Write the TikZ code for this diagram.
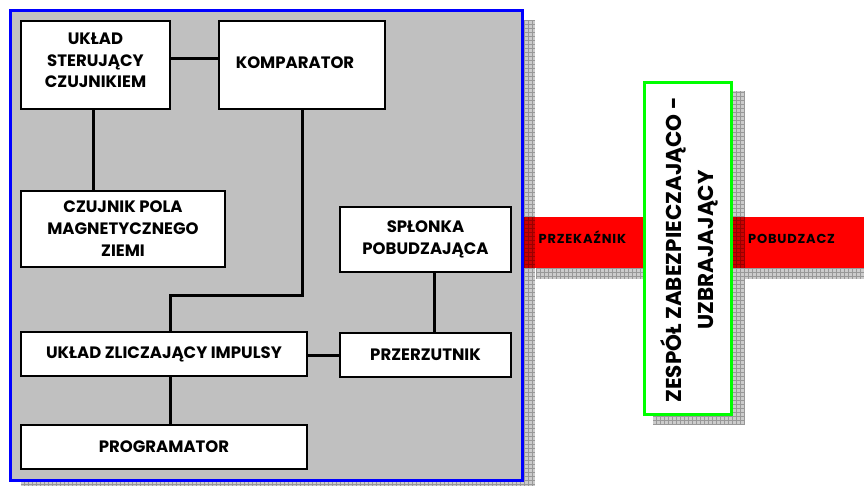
\documentclass[tikz,border=0pt]{standalone}
\usepackage{fontspec}
\setmainfont{Poppins}
\begin{document}
\begin{tikzpicture}[x=1pt,y=-1pt,
  blk/.style={draw=black, fill=white, line width=1.2pt, align=center, inner sep=0pt,
    font=\fontsize{16.5}{22}\selectfont\bfseries},
  wire/.style={draw=black, line width=3pt},
  redbar/.style={fill=red, draw=none, inner sep=0pt, minimum height=51pt},
  bartext/.style={font=\fontsize{13}{13}\selectfont\bfseries\addfontfeatures{LetterSpace=6}, inner sep=0pt}
]
\newcommand\mkshadow[4]{%
  \fill[black,opacity=.2] (#1,#2) rectangle (#3,#4);
  \begin{scope}
    \clip (#1,#2) rectangle (#3,#4);
    \draw[black,opacity=.25,line width=.6pt,step=4pt] (#1,#2) grid (#3,#4);
  \end{scope}}
\useasboundingbox (0,0) rectangle (864,486);
\fill[white] (0,0) rectangle (864,486);
% red bars with their shadows
\mkshadow{536}{228}{660}{279}
\mkshadow{745}{228}{880}{279}
\node[redbar, minimum width=130pt] (przek) at (580,242.5) {};
\node[redbar, minimum width=140pt] (pobud) at (801,242.5) {};
\node[bartext, anchor=base west] (przekt) at (538.5,243.5) {PRZEKAŹNIK};
\node[bartext, anchor=base west] (pobudt) at (748,243.5) {POBUDZACZ};
% main box
\mkshadow{21}{20}{535}{492}
\node[draw={rgb,255:red,0;green,0;blue,255}, fill={rgb,255:red,192;green,192;blue,192},
  line width=3pt, minimum width=512pt, minimum height=470pt, inner sep=0pt] (main) at (266.5,245.5) {};
% green box
\mkshadow{653}{91}{745}{425}
\node[draw={rgb,255:red,0;green,255;blue,0}, fill=white, line width=3pt,
  minimum width=87pt, minimum height=332pt, inner sep=0pt] (zesp) at (688,248.5) {};
\node[rotate=90, align=center, inner sep=0pt,
  font=\fontsize{21.5}{32}\selectfont\bfseries] (zespt) at (689,250)
  {ZESPÓŁ ZABEZPIECZAJĄCO -\\UZBRAJAJĄCY};
% blocks
\node[blk, minimum width=149pt, minimum height=88pt] (ster) at (95.5,65)
  {\raisebox{3pt}[\height][\depth]{\begin{tabular}{@{}c@{}}UKŁAD\\[-0.5pt]STERUJĄCY\\[-0.5pt]CZUJNIKIEM\end{tabular}}};
\node[blk, minimum width=166pt, minimum height=88pt] (komp) at (302,65) {\hspace*{-14pt}\raisebox{2pt}[\height][\depth]{KOMPARATOR}};
\node[blk, minimum width=204pt, minimum height=76pt] (czuj) at (123,229)
  {CZUJNIK POLA\\MAGNETYCZNEGO\\ZIEMI};
\node[blk, minimum width=171pt, minimum height=65pt] (splo) at (425.5,239.5)
  {SPŁONKA\\POBUDZAJĄCA};
\node[blk, minimum width=171pt, minimum height=44pt] (przerz) at (425.5,355) {PRZERZUTNIK};
\node[blk, minimum width=286pt, minimum height=44pt] (zlicz) at (164,354) {UKŁAD ZLICZAJĄCY IMPULSY};
\node[blk, minimum width=286pt, minimum height=44pt] (prog) at (164,447) {PROGRAMATOR};
% connectors
\draw[wire] (ster.east |- 0,59) -- (komp.west |- 0,59);
\draw[wire] (ster.south -| 93,0) -- (czuj.north -| 93,0);
\coordinate (k1) at (302,295);
\coordinate (k2) at (170,295);
\draw[wire] (komp.south) -- (k1) -- (k2) -- (zlicz.north -| k2);
\draw[wire] (zlicz.east |- przerz.west) -- (przerz.west);
\draw[wire] (splo.south -| 434,0) -- (przerz.north -| 434,0);
\draw[wire] (zlicz.south -| 170,0) -- (prog.north -| 170,0);
\end{tikzpicture}
\end{document}
